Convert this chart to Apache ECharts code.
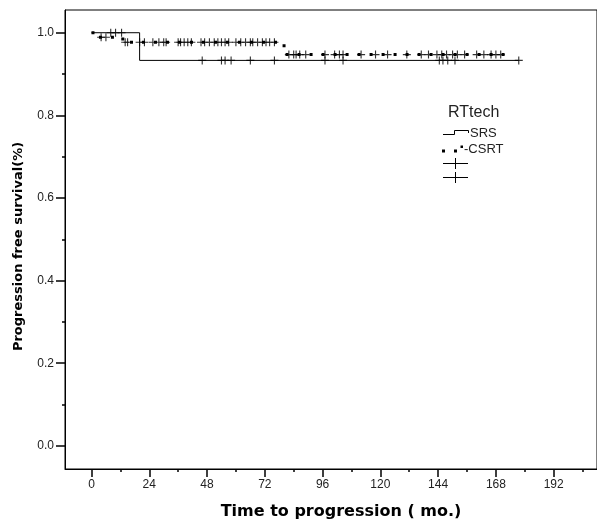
<!DOCTYPE html>
<html>
<head>
<meta charset="utf-8">
<script src="https://cdn.jsdelivr.net/npm/echarts@6/dist/echarts.min.js"></script>
<style>
html,body{margin:0;padding:0;background:#fff;}
#chart{width:597px;height:520px;}
</style>
</head>
<body>
<div id="chart"></div>
<script>
// ---- tick labels ----
const xTickValues = [0, 24, 48, 72, 96, 120, 144, 168, 192];
const xMinorTicks = [12, 36, 60, 84, 108, 132, 156, 180, 204];
const yTickValues = [0, 0.2, 0.4, 0.6, 0.8, 1.0];
const yTickLabels = ['0.0', '0.2', '0.4', '0.6', '0.8', '1.0'];
const yMinorTicks = [0.1, 0.3, 0.5, 0.7, 0.9];

// ---- SRS group (solid) ----
const srsEventTimes = [20];
const srsEventSurv = [0.933];
const srsEndTime = 177.5;
const srsCensorTimes = [8, 10, 12.5, 46, 54, 55.5, 58, 66, 76, 97, 104.5, 144.5, 146, 148, 151, 177.5];

// ---- CSRT group (dotted) ----
const csrtEventTimes = [3, 13, 80];
const csrtEventSurv = [0.989, 0.977, 0.947];
const csrtEndTime = 174;
const csrtCensorTimes = [4, 6, 14, 15, 20, 22, 25.5, 28, 30, 31, 36, 37, 38.5, 40, 41.5, 45.5, 47, 49, 51, 52.5, 54, 55.5, 57,
  60, 62, 64, 66, 67, 69, 71, 72.5, 74, 76,
  82, 84, 85, 86.5, 89, 97, 101, 103, 104.5, 112, 118, 123, 131, 137, 140, 143.5, 145.5, 147.5, 150, 152, 155, 160, 163, 166, 168, 170];

function stepData(times, surv, end) {
  const pts = [[0, 1]];
  let s = 1;
  for (let i = 0; i < times.length; i++) {
    pts.push([times[i], s]);
    s = surv[i];
    pts.push([times[i], s]);
  }
  pts.push([end, s]);
  return pts;
}
function survAt(t, times, surv) {
  let s = 1;
  for (let i = 0; i < times.length; i++) if (times[i] <= t) s = surv[i];
  return s;
}
const plusPath = 'path://M0,4.3L10,4.3L10,5.7L0,5.7Z M4.3,0L5.7,0L5.7,10L4.3,10Z';

const chart = echarts.init(document.getElementById('chart'), null, {renderer: 'canvas'});
const axisFont = {fontFamily: '"Liberation Sans", Arial, sans-serif', fontSize: 12, color: '#222'};
const legendFont = '"Liberation Sans", Arial, sans-serif';

const option = {
  backgroundColor: '#fff',
  animation: false,
  grid: {left: 65, right: 0, top: 10, bottom: 51, containLabel: false, outerBoundsMode: 'none',
    show: true, borderColor: '#000', borderWidth: 1, backgroundColor: 'transparent'},
  xAxis: [{
    type: 'value', min: -11, max: 210,
    name: 'Time to progression ( mo.)', nameLocation: 'middle', nameGap: 35,
    nameTextStyle: {fontFamily: '"DejaVu Sans", sans-serif', fontWeight: 'bold', fontSize: 16, color: '#000', padding: [0, 0, 0, 20]},
    axisLine: {show: true, onZero: false, lineStyle: {color: '#000', width: 1}},
    axisTick: {show: true, length: 8, customValues: xTickValues, lineStyle: {color: '#000', width: 1.5}},
    axisLabel: Object.assign({customValues: xTickValues, margin: 10}, axisFont),
    splitLine: {show: false}
  }, {
    type: 'value', min: -11, max: 210, position: 'bottom',
    axisLine: {show: false, onZero: false},
    axisTick: {show: true, length: 3, customValues: xMinorTicks, lineStyle: {color: '#000', width: 1.5}},
    axisLabel: {show: false},
    splitLine: {show: false}
  }],
  yAxis: [{
    type: 'value', min: -0.056, max: 1.055,
    name: 'Progression free survival(%)', nameLocation: 'middle', nameGap: 40,
    nameTextStyle: {fontFamily: '"DejaVu Sans", sans-serif', fontWeight: 'bold', fontSize: 13, color: '#000', padding: [0, 14, 0, 0]},
    axisLine: {show: true, onZero: false, lineStyle: {color: '#000', width: 1}},
    axisTick: {show: true, length: 9, customValues: yTickValues, lineStyle: {color: '#000', width: 1.5}},
    axisLabel: Object.assign({customValues: yTickValues, margin: 11,
      formatter: v => { const i = yTickValues.findIndex(t => Math.abs(t - v) < 1e-6); return i >= 0 ? yTickLabels[i] : ''; }}, axisFont),
    splitLine: {show: false}
  }, {
    type: 'value', min: -0.056, max: 1.055, position: 'left',
    axisLine: {show: false, onZero: false},
    axisTick: {show: true, length: 3, customValues: yMinorTicks, lineStyle: {color: '#000', width: 1.5}},
    axisLabel: {show: false},
    splitLine: {show: false}
  }],
  series: [
    {
      name: 'SRS', type: 'line', xAxisIndex: 0, yAxisIndex: 0,
      data: stepData(srsEventTimes, srsEventSurv, srsEndTime),
      showSymbol: false, symbol: 'none',
      lineStyle: {color: '#000', width: 1}
    },
    {
      name: 'CSRT', type: 'line', xAxisIndex: 0, yAxisIndex: 0,
      data: stepData(csrtEventTimes, csrtEventSurv, csrtEndTime),
      showSymbol: false, symbol: 'none',
      lineStyle: {color: '#000', width: 3, type: [3, 9], cap: 'butt'}
    },
    {
      name: 'SRS censored', type: 'scatter', xAxisIndex: 0, yAxisIndex: 0,
      data: srsCensorTimes.map(t => [t, survAt(t, srsEventTimes, srsEventSurv)]),
      symbol: plusPath, symbolSize: 8,
      itemStyle: {color: '#000'}
    },
    {
      name: 'CSRT censored', type: 'scatter', xAxisIndex: 0, yAxisIndex: 0,
      data: csrtCensorTimes.map(t => [t, survAt(t, csrtEventTimes, csrtEventSurv)]),
      symbol: plusPath, symbolSize: 8,
      itemStyle: {color: '#000'}
    }
  ],
  graphic: [
    {type: 'text', x: 448, y: 113, style: {text: 'RTtech', font: '16px ' + legendFont, fill: '#222', verticalAlign: 'middle'}},
    {type: 'polyline', shape: {points: [[443, 134.5], [454.5, 134.5], [454.5, 130.5], [468.5, 130.5], [468.5, 133]]}, style: {stroke: '#000', lineWidth: 1, fill: null}},
    {type: 'text', x: 470, y: 133, style: {text: 'SRS', font: '13px ' + legendFont, fill: '#222', verticalAlign: 'middle'}},
    {type: 'rect', shape: {x: 442, y: 149.5, width: 3, height: 3}, style: {fill: '#000'}},
    {type: 'rect', shape: {x: 454, y: 149.5, width: 3, height: 3}, style: {fill: '#000'}},
    {type: 'rect', shape: {x: 460.5, y: 145.5, width: 2.5, height: 2.5}, style: {fill: '#000'}},
    {type: 'text', x: 464, y: 149, style: {text: '-CSRT', font: '13px ' + legendFont, fill: '#222', verticalAlign: 'middle'}},
    {type: 'line', shape: {x1: 443, y1: 163.5, x2: 468, y2: 163.5}, style: {stroke: '#000', lineWidth: 1}},
    {type: 'line', shape: {x1: 455.5, y1: 158, x2: 455.5, y2: 169}, style: {stroke: '#000', lineWidth: 1}},
    {type: 'line', shape: {x1: 443, y1: 177.5, x2: 468, y2: 177.5}, style: {stroke: '#000', lineWidth: 1}},
    {type: 'line', shape: {x1: 455.5, y1: 172, x2: 455.5, y2: 183}, style: {stroke: '#000', lineWidth: 1}}
  ]
};
chart.setOption(option);
</script>
</body>
</html>
